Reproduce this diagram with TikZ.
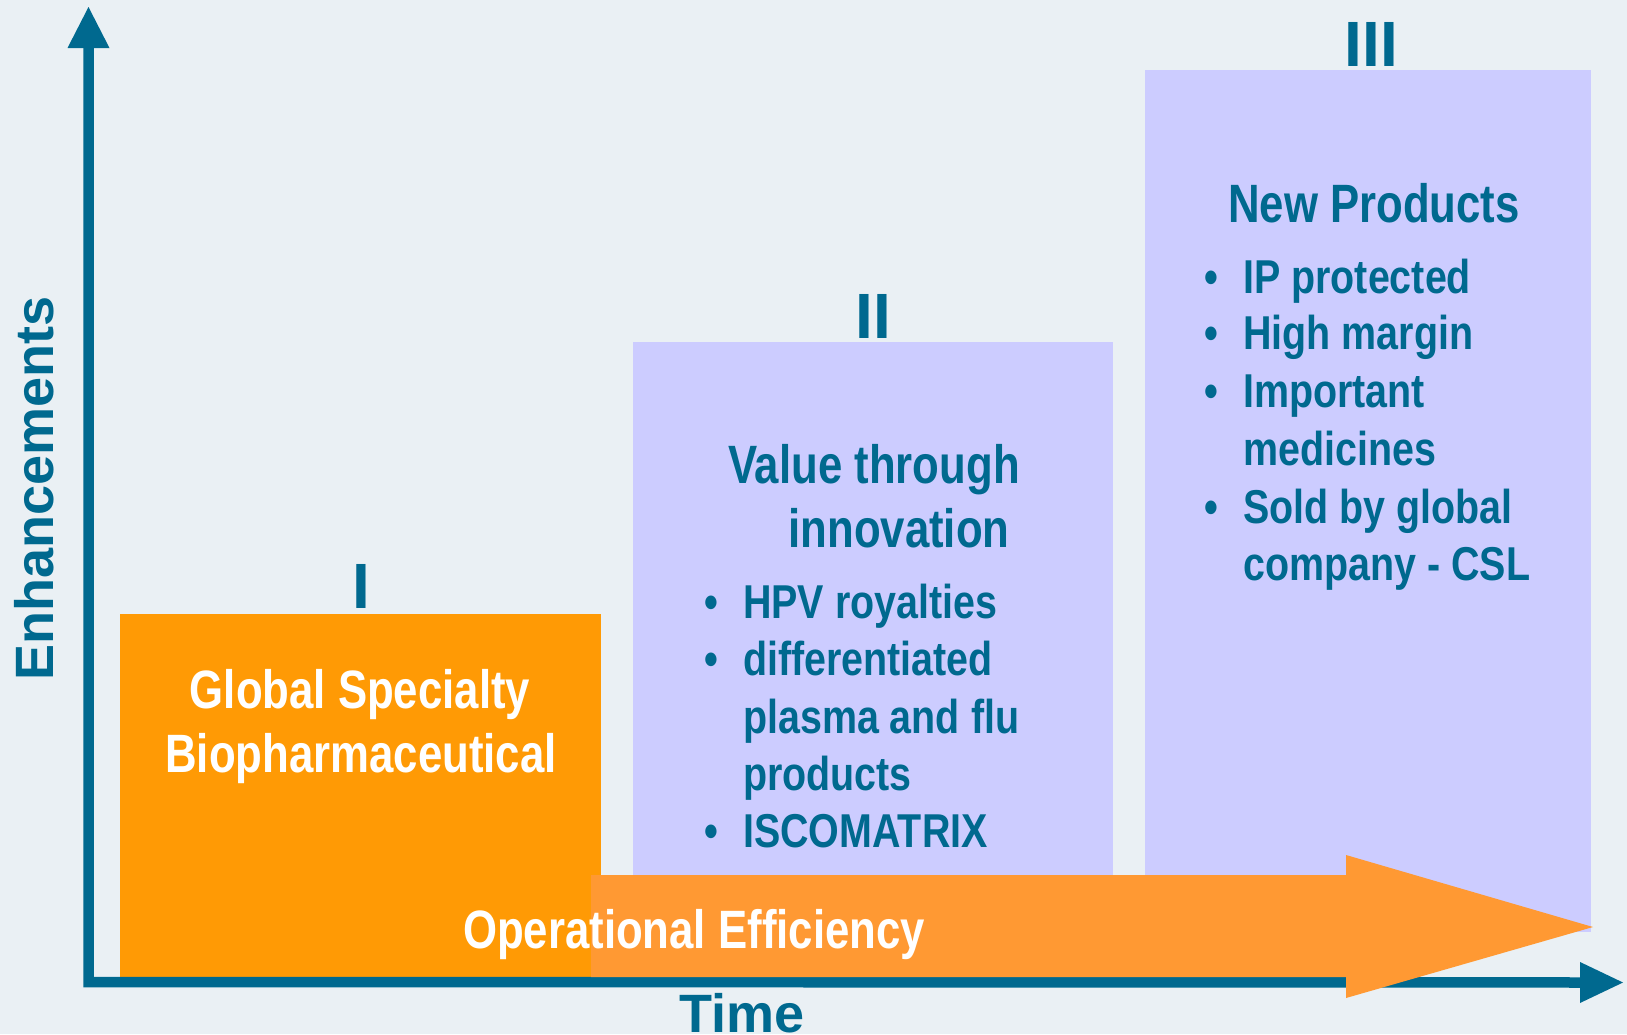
\documentclass[tikz,border=0pt]{standalone}
\usepackage{fontspec}
\newfontfamily\narrowsans{Liberation Sans}[FakeStretch=0.81]
\newfontfamily\itemsans{Liberation Sans}[FakeStretch=0.83]
\newfontfamily\plainsans{Liberation Sans}
\usetikzlibrary{arrows.meta}
\definecolor{pagebg}{HTML}{EAF0F4}
\definecolor{ink}{HTML}{00698F}
\definecolor{stageone}{HTML}{FF9A05}
\definecolor{stagebox}{HTML}{CCCCFF}
\definecolor{effarrow}{HTML}{FF9933}
\begin{document}
\begin{tikzpicture}[x=1pt,y=-1pt,
  stage/.style={draw=none, inner sep=0, outer sep=0, rectangle},
  heading/.style={font=\narrowsans\bfseries\fontsize{54}{64}\selectfont, inner sep=0, anchor=base},
  item/.style={font=\itemsans\bfseries\fontsize{47.5}{57}\selectfont, inner sep=0, anchor=base west, text=ink},
  bullet/.style={font=\itemsans\bfseries\fontsize{47.5}{57}\selectfont, inner sep=0, anchor=base, text=ink},
  numeral/.style={font=\plainsans\bfseries\fontsize{64}{64}\selectfont, inner sep=0, anchor=base, text=ink},
  axislabel/.style={font=\plainsans\bfseries\fontsize{54}{54}\selectfont, inner sep=0, anchor=base, text=ink},
  axis/.style={draw=ink, line width=10.5pt, line join=miter}]

% page
\fill[pagebg] (0,0) rectangle (1627,1034);
\useasboundingbox (0,0) rectangle (1627,1034);

% the three stages
\node[stage, fill=stageone, minimum width=481pt, minimum height=363pt] (boxI) at (360.5,795.5) {};
\node[stage, fill=stagebox, minimum width=480pt, minimum height=535pt] (boxII) at (873,609.5) {};
\node[stage, fill=stagebox, minimum width=446pt, minimum height=862pt] (boxIII) at (1368,501) {};

% axes
\coordinate (ytip) at (88.5,7);
\coordinate (origin) at (88.5,982);
\coordinate (xtip) at (1623,982.5);
\draw[axis, {Triangle[length=41pt,width=42pt,line width=0pt]}-{Triangle[length=43pt,width=41pt,line width=0pt]}]
  (ytip) -- (origin) -- (xtip);

% operational efficiency band
\fill[effarrow] (591,875) -- (1346,875) -- (1346,855) -- (1593,927) -- (1346,998)
  -- (1346,977) -- (591,977) -- cycle;

% stage numerals
\node[numeral] (numI) at (361,608) {I};
\node[numeral] (numII) at (873.5,338) {II};
\node[numeral] (numIII) at (1371.5,66) {III};

% stage I
\node[heading, text=white] (gs1) at (360,708) {Global Specialty};
\node[heading, text=white] (gs2) at (361,772) {Biopharmaceutical};

% stage II
\node[heading, text=ink] (vt1) at (874,483) {Value through};
\node[heading, text=ink] (vt2) at (899,547) {innovation};
\node[bullet] (b21) at (711,618) {•};
\node[item] (i21) at (743,618) {HPV royalties};
\node[bullet] (b22) at (711,675) {•};
\node[item] (i22) at (743,675) {differentiated};
\node[item] (i23) at (743,733) {plasma and flu};
\node[item] (i24) at (743,790) {products};
\node[bullet] (b25) at (711,847) {•};
\node[item] (i25) at (743,847) {ISCOMATRIX};

% stage III
\node[heading, text=ink] (np) at (1374,222) {New Products};
\node[bullet] (b31) at (1211,293) {•};
\node[item] (i31) at (1243,293) {IP protected};
\node[bullet] (b32) at (1211,349) {•};
\node[item] (i32) at (1243,349) {High margin};
\node[bullet] (b33) at (1211,407) {•};
\node[item] (i33) at (1243,407) {Important};
\node[item] (i34) at (1243,465) {medicines};
\node[bullet] (b35) at (1211,523) {•};
\node[item] (i35) at (1243,523) {Sold by global};
\node[item] (i36) at (1243,580) {company - CSL};

% band label
\node[heading, text=white] (eff) at (694,948) {Operational Efficiency};

% axis labels
\node[axislabel, text depth=0pt] (xlabel) at (742,1032) {Time};
\node[axislabel, rotate=90] (ylabel) at (53,488.5) {Enhancements};
\end{tikzpicture}
\end{document}
